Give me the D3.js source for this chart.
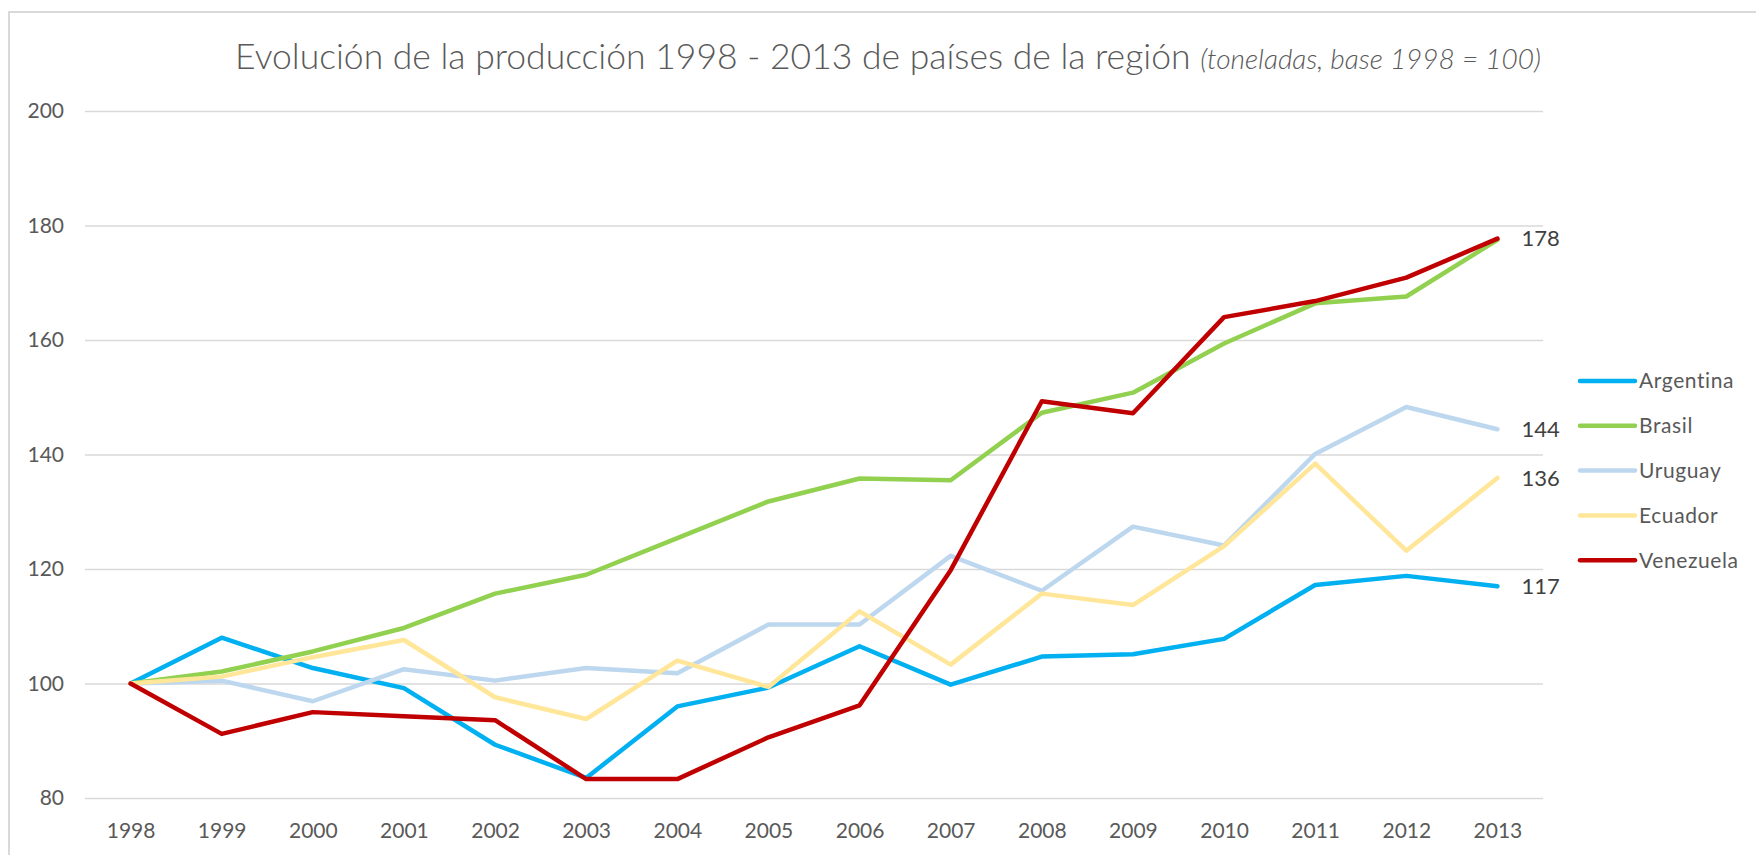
<!DOCTYPE html>
<html>
<head>
<meta charset="utf-8">
<script src="https://cdn.jsdelivr.net/npm/d3@7"></script>
<style>
	body { margin: 0; background: #fff; }
	text { font-family: Lato, "Open Sans", sans-serif; }
</style>
</head>
<body>
<script>
var years = ["1998","1999","2000","2001","2002","2003","2004","2005","2006","2007","2008","2009","2010","2011","2012","2013"];
var countries = ["Argentina","Brasil","Uruguay","Ecuador","Venezuela"];
var colors = ["#00b0f0","#92d050","#bdd7ee","#ffe699","#c00000"];

var argentina = [100,108.0,102.7,99.2,89.3,83.5,96.0,99.3,106.5,99.8,104.7,105.1,107.8,117.2,118.8,117.0];
var brasil    = [100,102.1,105.6,109.7,115.7,119.0,125.4,131.8,135.8,135.5,147.3,150.8,159.4,166.4,167.6,177.5];
var uruguay   = [100,100.5,96.9,102.5,100.5,102.7,101.8,110.3,110.3,122.3,116.2,127.4,124.1,140.1,148.3,144.4];
var ecuador   = [100,101.2,104.6,107.6,97.6,93.8,104.0,99.4,112.6,103.3,115.7,113.7,124.0,138.4,123.2,135.9];
var venezuela = [100,91.2,95.0,94.3,93.6,83.3,83.3,90.6,96.2,119.8,149.3,147.2,164.0,166.8,170.9,177.7];

var series = [argentina, brasil, uruguay, ecuador, venezuela];
var labelled = ["Argentina","Uruguay","Ecuador","Venezuela"];
var yTicks = [80,100,120,140,160,180,200];

async function main(){

	var w = 1756;
	var h = 855;

	var svg = d3.select("body")
				.append("svg")
				.attr("width", w)
				.attr("height", h);

	// chart frame (runs off the right and bottom)
	svg.append("rect")
		.attr("x", 9)
		.attr("y", 12)
		.attr("width", 1800)
		.attr("height", 900)
		.attr("fill", "none")
		.attr("stroke", "#d9d9d9")
		.attr("stroke-width", 2);

	var x = d3.scalePoint()
		.domain(years)
		.range([85, 1543])
		.padding(0.5);

	var y = d3.scaleLinear()
		.domain([80, 200])
		.range([798, 111]);

	// title
	var title = svg.append("text")
		.attr("x", 888)
		.attr("y", 69)
		.attr("text-anchor", "middle")
		.attr("fill", "#595959");
	title.append("tspan")
		.attr("font-size", 35.5)
		.attr("font-weight", 300)
		.text("Evolución de la producción 1998 - 2013 de países de la región ");
	title.append("tspan")
		.attr("font-size", 28)
		.attr("font-style", "italic")
		.attr("font-weight", 300)
		.text("(toneladas, base 1998 = 100)");

	// y axis with gridlines
	var yAxis = svg.append("g")
		.attr("transform", "translate(85,0)")
		.call(d3.axisLeft(y)
			.tickValues(yTicks)
			.tickSize(-(1543 - 85))
			.tickPadding(21));
	yAxis.select(".domain").remove();
	yAxis.selectAll(".tick line")
		.attr("stroke", "#d9d9d9")
		.attr("stroke-width", 1.5);
	yAxis.selectAll(".tick text")
		.attr("fill", "#595959")
		.attr("font-size", 21)
		.style("font-family", "Lato, sans-serif");

	// x axis
	var xAxis = svg.append("g")
		.attr("transform", "translate(0,798)")
		.call(d3.axisBottom(x)
			.tickSize(0)
			.tickPadding(25));
	xAxis.select(".domain").remove();
	xAxis.selectAll(".tick text")
		.attr("fill", "#595959")
		.attr("font-size", 21)
		.style("font-family", "Lato, sans-serif");

	var line = d3.line()
		.x(function(d, i){ return x(years[i]); })
		.y(function(d){ return y(d); });

	svg.selectAll(".serie")
		.data(series)
		.enter()
		.append("path")
		.attr("class", "serie")
		.attr("d", line)
		.attr("fill", "none")
		.attr("stroke", function(d, i){ return colors[i]; })
		.attr("stroke-width", 4.5)
		.attr("stroke-linejoin", "round")
		.attr("stroke-linecap", "round");

	// end labels
	var last = years[years.length - 1];
	svg.selectAll(".endLabel")
		.data(labelled)
		.enter()
		.append("text")
		.attr("class", "endLabel")
		.attr("x", x(last) + 24)
		.attr("y", function(d){ var s = series[countries.indexOf(d)]; return y(s[s.length - 1]); })
		.attr("dy", "0.35em")
		.attr("fill", "#404040")
		.attr("font-size", 22)
		.text(function(d){ var s = series[countries.indexOf(d)]; return Math.round(s[s.length - 1]); });

	// legend
	var legend = svg.selectAll(".legend")
		.data(countries)
		.enter()
		.append("g")
		.attr("class", "legend")
		.attr("transform", function(d, i){ return "translate(1580," + (381 + i * 44.8) + ")"; });

	legend.append("line")
		.attr("x1", 0)
		.attr("x2", 55)
		.attr("stroke", function(d, i){ return colors[i]; })
		.attr("stroke-width", 4.5)
		.attr("stroke-linecap", "round");

	legend.append("text")
		.attr("x", 59)
		.attr("dy", "0.35em")
		.attr("fill", "#595959")
		.attr("font-size", 21)
		.attr("letter-spacing", 0.6)
		.text(function(d){ return d; });
}

main();
</script>
</body>
</html>
